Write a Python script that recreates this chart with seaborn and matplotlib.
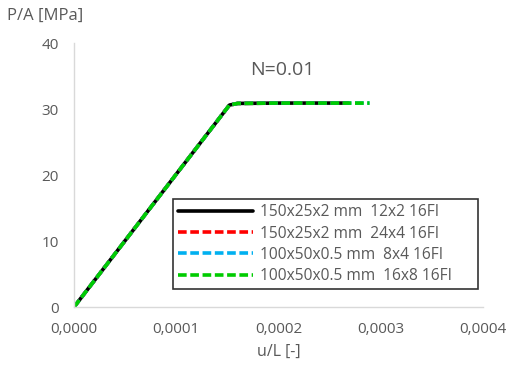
import matplotlib
matplotlib.use("Agg")
import matplotlib.pyplot as plt
import seaborn as sns
import pandas as pd
from matplotlib.ticker import FuncFormatter

# Curves: strain u/L and stress P/A for each mesh
labels = [
    "150x25x2 mm  12x2 16FI",
    "150x25x2 mm  24x4 16FI",
    "100x50x0.5 mm  8x4 16FI",
    "100x50x0.5 mm  16x8 16FI",
]
strain_a = [0.0, 0.000152, 0.000160, 0.000200, 0.000240, 0.000268]
stress_a = [0.0, 30.6, 30.85, 30.9, 30.9, 30.9]
strain_b = [0.0, 0.000152, 0.000160, 0.000200, 0.000240, 0.000268]
stress_b = [0.0, 30.6, 30.85, 30.9, 30.9, 30.9]
strain_c = [0.0, 0.000152, 0.000160, 0.000200, 0.000250, 0.000289]
stress_c = [0.0, 30.6, 30.85, 30.9, 30.9, 30.9]
strain_d = [0.0, 0.000152, 0.000160, 0.000200, 0.000250, 0.000289]
stress_d = [0.0, 30.6, 30.85, 30.9, 30.9, 30.9]

colors = ["#000000", "#ff0000", "#00b0f0", "#00cc00"]

frames = []
for lab, xs, ys in zip(labels, [strain_a, strain_b, strain_c, strain_d],
                       [stress_a, stress_b, stress_c, stress_d]):
    frames.append(pd.DataFrame({"u/L": xs, "P/A": ys, "mesh": lab}))
df = pd.concat(frames, ignore_index=True)

sns.set_style("white")
plt.rcParams["font.family"] = ["Open Sans", "DejaVu Sans"]

fig = plt.figure(figsize=(5.09, 3.74), dpi=100)
ax = fig.add_axes([0.1454, 0.179, 0.8036, 0.706])

grey = "#595959"
for i, lab in enumerate(labels):
    sub = df[df["mesh"] == lab]
    kw = {}
    if i > 0:
        kw["dashes"] = (2.4, 1.0)
    sns.lineplot(data=sub, x="u/L", y="P/A", ax=ax, color=colors[i],
                 linewidth=2.6, label=lab, sort=False, estimator=None, **kw)

ax.set_xlim(0, 0.0004)
ax.set_ylim(0, 40)
ax.set_xticks([0, 0.0001, 0.0002, 0.0003, 0.0004])
ax.set_yticks([0, 10, 20, 30, 40])
ax.xaxis.set_major_formatter(FuncFormatter(lambda v, p: f"{v:.4f}".replace(".", ",")))
ax.tick_params(axis="both", colors=grey, labelsize=11, length=0)
ax.tick_params(axis="y", pad=11)
ax.tick_params(axis="x", pad=11)
for s in ["top", "right"]:
    ax.spines[s].set_visible(False)
for s in ["left", "bottom"]:
    ax.spines[s].set_color("#d9d9d9")
    ax.spines[s].set_linewidth(1.0)
ax.set_xlabel("u/L [-]", color=grey, fontsize=11.5, labelpad=5)
ax.set_ylabel("")
fig.text(0.014, 0.958, "P/A [MPa]", color=grey, fontsize=12, ha="left", va="center")
ax.text(0.509, 0.898, "N=0.01", transform=ax.transAxes, color=grey,
        fontsize=14, ha="center", va="center")

leg = ax.legend(loc="lower left", bbox_to_anchor=(0.242, 0.068, 0.746, 0.349),
                mode="expand", frameon=True, fancybox=False, fontsize=11.2,
                handlelength=4.8, labelspacing=0.34, borderpad=0.32,
                handletextpad=0.5, borderaxespad=0)
leg.get_frame().set_edgecolor("black")
leg.get_frame().set_linewidth(1.2)
for t in leg.get_texts():
    t.set_color(grey)

fig.savefig("out.png", dpi=100)
